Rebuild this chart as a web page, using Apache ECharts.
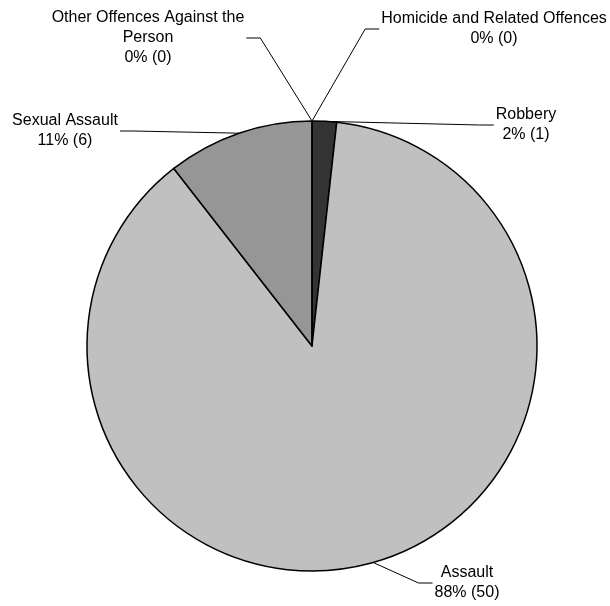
<!DOCTYPE html>
<html><head><meta charset="utf-8">
<script src="https://cdn.jsdelivr.net/npm/echarts@6/dist/echarts.min.js"></script>
<style>html,body{margin:0;padding:0;background:#fff}#c{width:610px;height:606px}</style>
</head><body><div id="c"></div>
<script>
const categories = ['Homicide and Related Offences', 'Robbery', 'Assault', 'Sexual Assault', 'Other Offences Against the\nPerson'];
const values = [0, 1, 50, 6, 0];
const colors = ['#000000', '#333333', '#c0c0c0', '#969696', '#ffffff'];
// label placement: [center x, middle y, side of pie]
const labelPos = [[494, 29, 'right'], [526, 125, 'right'], [467, 583, 'right'], [65, 131, 'left'], [148, 38, 'left']];
const total = values.reduce((a, b) => a + b, 0);
const chart = echarts.init(document.getElementById('c'), null, {renderer: 'canvas'});
chart.setOption({
  animation: false,
  series: [{
    type: 'pie',
    center: [312, 346],
    radius: 225,
    startAngle: 90,
    clockwise: true,
    avoidLabelOverlap: false,
    data: categories.map((n, i) => ({name: n, value: values[i], itemStyle: {color: colors[i]}})),
    itemStyle: {borderColor: '#000', borderWidth: 1.5},
    emphasis: {disabled: true},
    label: {
      show: true,
      position: 'outside',
      formatter: p => p.name + '\n' + Math.round(p.value / total * 100) + '% (' + p.value + ')',
      fontFamily: 'Liberation Sans, Arial, sans-serif',
      fontSize: 16,
      lineHeight: 20,
      color: '#000',
      align: 'center'
    },
    labelLine: {show: true, length: 20, length2: 14, lineStyle: {color: '#000', width: 1}},
    labelLayout: function (params) {
      const p = labelPos[params.dataIndex];
      const w = params.labelRect.width;
      const edge = p[2] === 'right' ? p[0] - w / 2 - 2 : p[0] + w / 2 + 2;
      const knee = p[2] === 'right' ? edge - 14 : edge + 14;
      const out = {x: p[0], y: p[1], align: 'center', verticalAlign: 'middle'};
      if (params.labelLinePoints) {
        out.labelLinePoints = [params.labelLinePoints[0], [knee, p[1]], [edge, p[1]]];
      }
      return out;
    }
  }]
});
</script>
</body></html>
